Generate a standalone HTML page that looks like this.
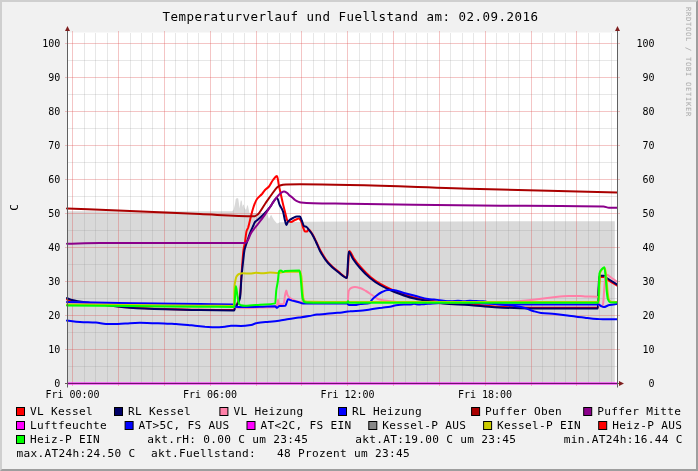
<!DOCTYPE html>
<html lang="de"><head><meta charset="utf-8"><title>Temperaturverlauf und Fuellstand</title>
<style>html,body{margin:0;padding:0;background:#f1f1f1;}body{width:698px;height:471px;overflow:hidden;}svg{display:block;}text{font-family:"DejaVu Sans Mono","Liberation Mono",monospace;fill:#000;white-space:pre;}.t{font-size:12.5px;letter-spacing:0.474px;}.l{font-size:11.11px;letter-spacing:0.311px;}.a{font-size:10px;letter-spacing:-0.02px;}.w{font-size:7.1px;letter-spacing:0.726px;fill:#aaaaaa;}.ln{fill:none;stroke-width:2;stroke-linejoin:round;stroke-linecap:round;}</style></head><body>
<svg width="698" height="471" viewBox="0 0 698 471">
<rect x="0" y="0" width="698" height="471" fill="#f1f1f1"/>
<path d="M0 0H698V2H2V471H0Z" fill="#cfcfcf"/>
<path d="M698 471H0L2 469H696V2L698 0Z" fill="#9e9e9e"/>
<rect x="67" y="32.5" width="551" height="350.5" fill="#fff"/>
<path d="M67 383 L67 211.2 L180 211.3 L232 211.2 L233.5 210 L235 204 L235.8 199 L237 198 L238.2 198.6 L239 204 L239.7 208.5 L240.3 203 L240.9 200.3 L241.8 201 L242.5 207 L243 205 L243.8 204.5 L244.6 208 L246 210 L247 206 L247.8 205 L248.6 209 L249.5 213 L267 213.2 L268 216 L269 219 L270.3 216 L271.2 214.8 L272.3 217 L274 220 L277 223.6 L280 222.2 L300 221.8 L350 221.6 L450 221.4 L614.8 221.2 L614.8 383Z" fill="#d9d9d9"/>
<g shape-rendering="crispEdges"><path d="M67 366.5H617" stroke="#8f8f8f" stroke-opacity="0.21"/><path d="M67 332.5H617" stroke="#8f8f8f" stroke-opacity="0.21"/><path d="M67 298.5H617" stroke="#8f8f8f" stroke-opacity="0.21"/><path d="M67 264.5H617" stroke="#8f8f8f" stroke-opacity="0.21"/><path d="M67 230.5H617" stroke="#8f8f8f" stroke-opacity="0.21"/><path d="M67 196.5H617" stroke="#8f8f8f" stroke-opacity="0.21"/><path d="M67 162.5H617" stroke="#8f8f8f" stroke-opacity="0.21"/><path d="M67 128.5H617" stroke="#8f8f8f" stroke-opacity="0.21"/><path d="M67 94.5H617" stroke="#8f8f8f" stroke-opacity="0.21"/><path d="M67 60.5H617" stroke="#8f8f8f" stroke-opacity="0.21"/><path d="M65 383.5H620" stroke="#de4f4f" stroke-opacity="0.33"/><path d="M65 349.5H620" stroke="#de4f4f" stroke-opacity="0.33"/><path d="M65 315.5H620" stroke="#de4f4f" stroke-opacity="0.33"/><path d="M65 281.5H620" stroke="#de4f4f" stroke-opacity="0.33"/><path d="M65 247.5H620" stroke="#de4f4f" stroke-opacity="0.33"/><path d="M65 213.5H620" stroke="#de4f4f" stroke-opacity="0.33"/><path d="M65 179.5H620" stroke="#de4f4f" stroke-opacity="0.33"/><path d="M65 145.5H620" stroke="#de4f4f" stroke-opacity="0.33"/><path d="M65 111.5H620" stroke="#de4f4f" stroke-opacity="0.33"/><path d="M65 77.5H620" stroke="#de4f4f" stroke-opacity="0.33"/><path d="M65 43.5H620" stroke="#de4f4f" stroke-opacity="0.33"/><path d="M84.5 33V383" stroke="#8f8f8f" stroke-opacity="0.21"/><path d="M95.5 33V383" stroke="#8f8f8f" stroke-opacity="0.21"/><path d="M107.5 33V383" stroke="#8f8f8f" stroke-opacity="0.21"/><path d="M130.5 33V383" stroke="#8f8f8f" stroke-opacity="0.21"/><path d="M141.5 33V383" stroke="#8f8f8f" stroke-opacity="0.21"/><path d="M152.5 33V383" stroke="#8f8f8f" stroke-opacity="0.21"/><path d="M175.5 33V383" stroke="#8f8f8f" stroke-opacity="0.21"/><path d="M187.5 33V383" stroke="#8f8f8f" stroke-opacity="0.21"/><path d="M198.5 33V383" stroke="#8f8f8f" stroke-opacity="0.21"/><path d="M221.5 33V383" stroke="#8f8f8f" stroke-opacity="0.21"/><path d="M233.5 33V383" stroke="#8f8f8f" stroke-opacity="0.21"/><path d="M244.5 33V383" stroke="#8f8f8f" stroke-opacity="0.21"/><path d="M267.5 33V383" stroke="#8f8f8f" stroke-opacity="0.21"/><path d="M279.5 33V383" stroke="#8f8f8f" stroke-opacity="0.21"/><path d="M290.5 33V383" stroke="#8f8f8f" stroke-opacity="0.21"/><path d="M313.5 33V383" stroke="#8f8f8f" stroke-opacity="0.21"/><path d="M324.5 33V383" stroke="#8f8f8f" stroke-opacity="0.21"/><path d="M336.5 33V383" stroke="#8f8f8f" stroke-opacity="0.21"/><path d="M359.5 33V383" stroke="#8f8f8f" stroke-opacity="0.21"/><path d="M370.5 33V383" stroke="#8f8f8f" stroke-opacity="0.21"/><path d="M382.5 33V383" stroke="#8f8f8f" stroke-opacity="0.21"/><path d="M405.5 33V383" stroke="#8f8f8f" stroke-opacity="0.21"/><path d="M416.5 33V383" stroke="#8f8f8f" stroke-opacity="0.21"/><path d="M427.5 33V383" stroke="#8f8f8f" stroke-opacity="0.21"/><path d="M450.5 33V383" stroke="#8f8f8f" stroke-opacity="0.21"/><path d="M462.5 33V383" stroke="#8f8f8f" stroke-opacity="0.21"/><path d="M473.5 33V383" stroke="#8f8f8f" stroke-opacity="0.21"/><path d="M496.5 33V383" stroke="#8f8f8f" stroke-opacity="0.21"/><path d="M508.5 33V383" stroke="#8f8f8f" stroke-opacity="0.21"/><path d="M519.5 33V383" stroke="#8f8f8f" stroke-opacity="0.21"/><path d="M542.5 33V383" stroke="#8f8f8f" stroke-opacity="0.21"/><path d="M554.5 33V383" stroke="#8f8f8f" stroke-opacity="0.21"/><path d="M565.5 33V383" stroke="#8f8f8f" stroke-opacity="0.21"/><path d="M588.5 33V383" stroke="#8f8f8f" stroke-opacity="0.21"/><path d="M599.5 33V383" stroke="#8f8f8f" stroke-opacity="0.21"/><path d="M611.5 33V383" stroke="#8f8f8f" stroke-opacity="0.21"/><path d="M72.5 31V386" stroke="#de4f4f" stroke-opacity="0.33"/><path d="M118.5 31V386" stroke="#de4f4f" stroke-opacity="0.33"/><path d="M164.5 31V386" stroke="#de4f4f" stroke-opacity="0.33"/><path d="M210.5 31V386" stroke="#de4f4f" stroke-opacity="0.33"/><path d="M256.5 31V386" stroke="#de4f4f" stroke-opacity="0.33"/><path d="M301.5 31V386" stroke="#de4f4f" stroke-opacity="0.33"/><path d="M347.5 31V386" stroke="#de4f4f" stroke-opacity="0.33"/><path d="M393.5 31V386" stroke="#de4f4f" stroke-opacity="0.33"/><path d="M439.5 31V386" stroke="#de4f4f" stroke-opacity="0.33"/><path d="M485.5 31V386" stroke="#de4f4f" stroke-opacity="0.33"/><path d="M531.5 31V386" stroke="#de4f4f" stroke-opacity="0.33"/><path d="M576.5 31V386" stroke="#de4f4f" stroke-opacity="0.33"/></g>
<path class="ln" d="M67 299.5C68.7 299.9 70.3 300.4 72 300.8C74.7 301.4 77.3 301.8 80 302.2C83.3 302.7 86.7 303.0 90 303.4C96.7 304.1 103.3 304.7 110 305.4C116.7 306.1 123.3 307.0 130 307.4C141.7 308.2 153.3 308.6 165 309C176.7 309.4 188.3 309.7 200 309.8C211.3 309.9 222.7 310.1 234 310.1C234.3 310.1 234.7 307.7 235 307C235.7 305.6 236.3 305.3 237 304C238.0 302.1 239.0 300.8 240 296C240.5 293.6 241.0 281.6 241.5 275C242.2 266.2 242.8 254.9 243.5 250C244.0 246.3 244.5 245.0 245 242C245.5 238.8 246.1 232.7 246.6 231C247.1 229.5 247.5 229.3 248 228C248.8 225.7 249.7 221.2 250.5 218C251.2 215.3 251.9 212.3 252.6 210C253.3 207.8 253.9 205.6 254.6 204C255.4 202.0 256.2 200.1 257 199C258.7 196.7 260.3 195.9 262 194C263.0 192.8 264.0 191.1 265 190C266.3 188.6 267.7 188.0 269 186.5C270.3 185.0 271.7 181.7 273 180C274.3 178.3 275.7 176.0 277 176C277.7 176.0 278.3 182.8 279 186C279.7 189.2 280.3 192.0 281 195C281.7 198.0 282.3 201.2 283 204C283.5 206.1 284.0 208.0 284.5 210C285.0 212.0 285.5 214.2 286 216C286.5 217.8 287.0 220.7 287.5 221C288.7 221.7 289.8 222.0 291 222C292.3 222.0 293.7 220.5 295 220C296.3 219.5 297.7 218.6 299 218.6C299.7 218.6 300.3 219.9 301 221C301.7 222.1 302.3 225.3 303 227C303.7 228.7 304.3 231.6 305 231.6C305.7 231.6 306.3 231.6 307 231.6C307.5 231.6 308.1 229.6 308.6 229.6C309.8 229.6 311.0 232.1 312.2 233.8C313.6 235.8 314.9 238.9 316.3 241.7C317.7 244.5 319.0 248.1 320.4 250.6C323.1 255.4 325.7 259.6 328.4 262.6C331.7 266.4 335.1 269.0 338.4 271.6C341.3 273.9 344.3 277.6 347.2 277.6C347.5 277.6 347.9 268.2 348.2 264C348.6 259.4 348.9 251.0 349.3 251C350.8 251.0 352.3 256.0 353.8 258.2C356.1 261.6 358.5 264.6 360.8 267.2C364.1 271.0 367.5 274.5 370.8 277.2C374.1 279.9 377.5 282.3 380.8 284.2C384.1 286.1 387.5 287.7 390.8 289.2C394.1 290.7 397.5 292.0 400.8 293.2C404.8 294.7 408.8 296.2 412.8 297.2C418.1 298.5 423.3 299.3 428.6 300.2C433.4 301.1 438.2 302.2 443 302.6C451.7 303.3 460.3 303.4 469 304C477.5 304.6 486.1 305.9 494.6 306.4C503.1 306.9 511.5 307.3 520 307.4C533.3 307.6 546.7 307.8 560 307.8C572.7 307.8 585.3 307.8 598 307.8C598.3 307.8 598.5 294.9 598.8 290C599.1 285.1 599.3 277.8 599.6 277.6C600.1 277.2 600.5 277.0 601 277C602.0 277.0 603.0 277.0 604 277C604.9 277.0 605.9 278.5 606.8 279.2C610.1 281.6 613.5 283.3 616.8 285.4" stroke="#ff0000" />
<path class="ln" d="M67 298.1C68.7 298.7 70.3 299.6 72 300C78.0 301.5 84.0 302.1 90 303C96.7 304.0 103.3 304.7 110 305.5C116.7 306.3 123.3 307.3 130 307.7C141.7 308.5 153.3 308.9 165 309.3C176.7 309.7 188.3 310.0 200 310.1C211.4 310.2 222.9 310.4 234.3 310.4C234.5 310.4 234.8 308.5 235 308C235.7 306.5 236.3 306.2 237 305C238.0 303.2 239.0 302.3 240 298C240.5 295.8 241.0 282.7 241.5 277C242.2 269.4 242.8 263.7 243.5 258C243.8 255.1 244.2 251.6 244.5 250C245.0 247.6 245.5 246.6 246 245C246.3 244.0 246.7 243.0 247 242C248.0 239.0 249.0 235.6 250 233C251.2 229.9 252.4 227.6 253.6 225C254.1 224.0 254.5 222.6 255 222C256.0 220.8 257.0 220.5 258 219.6C259.7 218.2 261.3 216.7 263 215C265.3 212.7 267.7 210.0 270 207.2C272.3 204.4 274.7 198.0 277 198C277.9 198.0 278.8 203.0 279.7 205C280.8 207.5 281.9 208.4 283 211.5C283.7 213.4 284.3 218.1 285 220.5C285.5 222.3 286.0 225.0 286.5 225C287.0 225.0 287.5 222.2 288 221.6C289.7 219.6 291.3 218.8 293 218C294.3 217.4 295.7 216.6 297 216.6C298.0 216.6 299.0 216.6 300 216.6C300.5 216.6 301.1 218.8 301.6 220C302.4 221.8 303.2 225.5 304 226C304.9 226.6 305.7 226.5 306.6 227C307.4 227.5 308.2 229.0 309 230C310.0 231.3 311.0 232.4 312 234C313.3 236.1 314.7 239.2 316 242C317.3 244.8 318.7 248.5 320 251C322.7 255.9 325.3 260.0 328 263C331.3 266.8 334.7 269.5 338 272C341.0 274.3 344.0 278.0 347 278C347.3 278.0 347.5 269.1 347.8 265C348.1 260.4 348.4 251.7 348.7 251.7C350.1 251.7 351.6 256.9 353 259C355.3 262.5 357.7 265.4 360 268C363.3 271.8 366.7 275.3 370 278C373.3 280.7 376.7 283.1 380 285C383.3 286.9 386.7 288.5 390 290C393.3 291.5 396.7 292.8 400 294C404.0 295.5 408.0 297.0 412 298C417.3 299.3 422.7 300.1 428 301C433.0 301.9 438.0 303.1 443 303.5C451.7 304.3 460.3 304.4 469 305C477.5 305.6 486.1 306.7 494.6 307.2C503.1 307.7 511.5 308.1 520 308.2C533.3 308.4 546.7 308.6 560 308.6C572.6 308.6 585.2 308.6 597.8 308.6C598.0 308.6 598.3 294.8 598.5 290C598.8 284.5 599.0 276.7 599.3 276.5C599.9 276.0 600.4 275.8 601 275.8C602.0 275.8 603.0 275.8 604 275.8C604.9 275.8 605.9 277.3 606.8 278C610.1 280.4 613.5 282.2 616.8 284.3" stroke="#000066" />
<path class="ln" d="M67 302.6C111.3 303.2 155.7 303.9 200 304.4C211.4 304.5 222.9 304.4 234.3 304.8C234.5 304.8 234.8 307.3 235 307.3C238.3 307.8 241.7 307.9 245 307.9C250.0 307.9 255.0 307.6 260 307.5C265.0 307.4 270.0 307.4 275 307C275.7 306.9 276.3 306.2 277 305C277.3 304.4 277.7 299.8 278 299.8C278.3 299.8 278.7 304.2 279 304.2C280.6 304.2 282.2 304.2 283.8 304C284.2 304.0 284.6 297.6 285 295.6C285.4 293.4 285.9 290.6 286.3 290.6C286.7 290.6 287.1 294.2 287.5 295C288.3 296.6 289.2 297.4 290 298C291.7 299.3 293.3 300.0 295 300.6C296.7 301.2 298.3 301.9 300 302C315.7 302.8 331.5 303.0 347.2 303C347.4 303.0 347.5 302.5 347.7 302C348.0 301.0 348.4 291.9 348.7 291C349.5 289.0 350.2 288.3 351 288C352.3 287.4 353.7 287.0 355 287C356.7 287.0 358.3 287.5 360 288C362.0 288.6 364.0 289.9 366 291C368.0 292.1 370.0 293.7 372 295C374.0 296.3 376.0 298.3 378 299C380.0 299.7 382.0 300.1 384 300.4C387.3 300.9 390.7 301.2 394 301.6C396.0 301.8 398.0 302.3 400 302.3C435.0 302.5 470.0 302.5 505 302.5C506.7 302.5 508.3 302.2 510 302C517.0 301.3 524.0 300.7 531 300C537.9 299.3 544.7 298.2 551.6 297.5C557.3 296.9 563.1 296.0 568.8 296C572.8 296.0 576.8 296.0 580.8 296C582.2 296.0 583.6 296.3 585 296.4C589.0 296.6 593.0 296.5 597 296.8C597.4 296.8 597.9 297.0 598.3 297.5C598.5 297.8 598.8 305.4 599 305.5C600.2 306.2 601.3 306.3 602.5 306.3C602.7 306.3 603.0 304.6 603.2 303C603.6 300.3 604.0 290.9 604.4 286.4C604.7 282.7 605.1 278.0 605.4 277C605.9 275.6 606.3 274.7 606.8 274.7C608.4 274.7 610.1 276.9 611.7 278C613.4 279.2 615.1 280.4 616.8 281.6" stroke="#ff80a8" />
<path class="ln" d="M67 302.1C111.3 302.8 155.7 303.6 200 304.1C211.4 304.2 222.9 304.1 234.3 304.4C234.5 304.4 234.8 306.7 235 306.7C238.3 307.1 241.7 307.1 245 307.1C250.0 307.1 255.0 306.8 260 306.7C265.0 306.6 270.0 306.2 275 306.2C275.7 306.2 276.3 307.8 277 307.8C277.8 307.8 278.6 306.1 279.4 306C281.4 305.9 283.3 306.0 285.3 305.8C285.7 305.8 286.1 304.0 286.5 303C287.0 301.8 287.5 299.3 288 299.3C289.3 299.3 290.7 300.2 292 300.6C294.0 301.1 296.0 301.5 298 302C299.7 302.4 301.3 303.5 303 303.5C317.7 303.5 332.3 303.5 347 303.5C347.7 303.5 348.3 305.0 349 305C351.0 305.0 353.0 305.0 355 305C356.7 305.0 358.3 304.2 360 304C363.3 303.5 366.7 303.8 370 303C370.3 302.9 370.7 301.5 371 301C372.7 298.6 374.3 297.3 376 296C378.0 294.4 380.0 292.9 382 292C384.0 291.1 386.0 290.0 388 290C389.7 290.0 391.3 290.0 393 290C396.7 290.0 400.3 292.0 404 293C408.0 294.0 412.0 295.0 416 296C420.0 297.0 424.0 298.5 428 299C430.0 299.3 432.0 299.4 434 299.6C439.9 300.2 445.7 301.4 451.6 301.8C457.7 302.3 463.9 302.5 470 302.8C476.7 303.1 483.3 303.5 490 303.8C494.3 304.0 498.7 304.5 503 304.5C534.8 304.6 566.7 304.5 598.5 304.6C599.3 304.6 600.2 305.6 601 306C601.9 306.4 602.7 307.1 603.6 307.1C605.5 307.1 607.5 305.4 609.4 305C611.9 304.5 614.3 304.3 616.8 304" stroke="#0000ff" />
<path class="ln" d="M67 208.5C88.0 209.3 109.0 210.0 130 210.9C153.3 211.9 176.7 213.0 200 214C218.0 214.8 236.0 216.3 254 216.3C255.0 216.3 256.0 215.6 257 215C259.7 213.4 262.3 207.7 265 204C267.3 200.7 269.7 197.1 272 194C273.7 191.8 275.3 189.1 277 187.6C278.0 186.7 279.0 185.8 280 185.5C282.0 184.9 284.0 184.6 286 184.5C290.7 184.4 295.3 184.3 300 184.3C360.0 184.3 420.0 187.5 480 189C525.7 190.2 571.3 191.3 617 192.5" stroke="#aa0000" />
<path class="ln" d="M67 243.7C78.0 243.5 89.0 243.1 100 243.1C148.5 243.0 197.0 243.1 245.5 243C246.3 243.0 247.2 241.3 248 240C248.9 238.6 249.7 235.6 250.6 234C251.7 231.9 252.9 230.5 254 229C255.3 227.2 256.7 225.7 258 224C260.3 221.0 262.7 217.9 265 214.6C267.3 211.3 269.7 207.4 272 204C273.7 201.6 275.3 199.0 277 197C278.3 195.4 279.7 193.6 281 192.8C282.0 192.2 283.0 191.5 284 191.5C285.0 191.5 286.0 192.2 287 192.8C287.7 193.2 288.3 194.4 289 195C290.0 195.9 291.0 196.5 292 197.3C293.0 198.1 294.0 199.3 295 200C296.0 200.7 297.0 201.2 298 201.6C299.0 202.0 300.0 202.4 301 202.5C305.0 203.0 309.0 203.2 313 203.3C325.3 203.6 337.7 203.6 350 203.8C393.3 204.4 436.7 205.1 480 205.5C521.2 205.9 562.3 205.6 603.5 206.5C605.3 206.5 607.2 207.7 609 207.7C611.7 207.7 614.3 207.7 617 207.7" stroke="#8b008b" />
<path d="M67 383.5H617" stroke="#ff00ff" stroke-width="2" fill="none"/>
<path class="ln" d="M67 320.6C71.3 321.1 75.7 321.8 80 322C85.3 322.3 90.7 322.3 96 322.6C99.3 322.8 102.7 324.0 106 324C110.0 324.0 114.0 324.0 118 324C122.0 324.0 126.0 323.4 130 323.2C133.3 323.0 136.7 322.8 140 322.8C144.0 322.8 148.0 323.1 152 323.2C156.0 323.3 160.0 323.3 164 323.4C168.0 323.5 172.0 323.8 176 324C180.0 324.2 184.0 324.6 188 325C190.3 325.2 192.7 325.5 195 325.7C198.3 326.0 201.7 326.4 205 326.7C208.3 326.9 211.7 327.3 215 327.3C218.3 327.3 221.7 327.0 225 326.7C227.0 326.5 229.0 325.7 231 325.7C234.3 325.7 237.7 326.0 241 326C244.3 326.0 247.7 325.5 251 325C253.0 324.7 255.0 323.3 257 323C261.0 322.3 265.0 322.1 269 321.7C272.3 321.4 275.7 321.1 279 320.7C282.3 320.3 285.7 319.5 289 319C292.3 318.5 295.7 318.1 299 317.6C302.3 317.1 305.7 316.6 309 316C311.7 315.6 314.3 314.9 317 314.6C319.7 314.3 322.3 314.2 325 314C328.3 313.7 331.7 313.2 335 313C336.7 312.9 338.3 312.8 340 312.7C343.3 312.4 346.7 311.4 350 311.2C353.3 310.9 356.7 310.9 360 310.7C363.3 310.5 366.7 309.9 370 309.5C374.0 309.0 378.0 308.2 382 307.7C384.7 307.3 387.3 307.2 390 306.7C392.0 306.4 394.0 305.5 396 305.2C398.7 304.8 401.3 304.5 404 304.5C406.0 304.5 408.0 304.6 410 304.6C411.3 304.6 412.7 303.8 414 303.8C415.7 303.8 417.3 304.6 419 304.6C420.3 304.6 421.7 304.3 423 304.2C424.7 304.1 426.3 303.9 428 303.8C432.0 303.5 436.0 303.4 440 303C443.3 302.7 446.7 301.6 450 301.3C452.7 301.1 455.3 300.8 458 300.8C460.0 300.8 462.0 301.2 464 301.2C466.0 301.2 468.0 300.7 470 300.7C472.0 300.7 474.0 301.1 476 301.1C478.3 301.2 480.7 301.1 483 301.2C485.3 301.3 487.7 302.0 490 302.5C493.3 303.2 496.7 304.2 500 304.6C505.0 305.3 510.0 305.3 515 306C518.3 306.4 521.7 307.1 525 308C527.7 308.7 530.3 310.2 533 311C535.7 311.8 538.3 312.7 541 313C545.7 313.5 550.3 313.6 555 314C559.7 314.4 564.3 315.1 569 315.7C574.3 316.4 579.7 317.1 585 317.7C589.0 318.2 593.0 318.8 597 319C599.7 319.1 602.3 319.3 605 319.3C609.0 319.3 613.0 319.2 617 319.2" stroke="#0000ff" />
<path class="ln" d="M67 304.6C88.0 304.8 109.0 304.9 130 305.1C153.3 305.3 176.7 305.7 200 305.8C211.3 305.8 222.7 305.9 234 305.9C234.2 305.9 234.3 287.9 234.5 286C234.8 282.9 235.0 282.3 235.3 281C235.7 279.1 236.1 277.3 236.5 276.6C237.3 275.2 238.2 274.3 239 274C240.3 273.6 241.7 273.3 243 273.3C245.3 273.3 247.7 273.5 250 273.5C252.0 273.5 254.0 272.8 256 272.8C258.0 272.8 260.0 273.2 262 273.2C264.7 273.2 267.3 272.6 270 272.6C272.7 272.6 275.3 273.0 278 273C279.7 273.0 281.3 272.1 283 272C288.6 271.7 294.2 271.5 299.8 271.5C300.3 271.5 300.8 273.5 301.3 276C301.6 277.7 302.0 284.4 302.3 288C302.6 291.6 303.0 296.8 303.3 298C303.8 299.8 304.3 301.1 304.8 301.2C306.5 301.7 308.3 301.8 310 301.8C321.7 302.0 333.3 302.0 345 302C429.6 302.0 514.2 302.0 598.8 302C599.2 302.0 599.6 274.0 600 273C601.6 269.1 603.3 268.0 604.9 268C605.4 268.0 605.9 273.7 606.4 278C606.8 281.4 607.2 288.7 607.6 292C608.0 295.3 608.4 298.7 608.8 299.5C609.5 300.9 610.3 301.7 611 301.8C612.9 302.0 614.9 301.9 616.8 302" stroke="#cccc00" />
<path class="ln" d="M67 305.5C88.0 305.7 109.0 305.9 130 306.1C153.3 306.3 176.7 306.7 200 306.8C211.3 306.8 222.7 306.9 234 306.9C234.2 306.9 234.3 305.9 234.5 305C234.9 302.6 235.4 286.0 235.8 286C236.4 286.0 236.9 292.9 237.5 296C238.0 298.7 238.5 302.6 239 303.5C239.6 304.5 240.2 305.2 240.8 305.3C242.2 305.6 243.6 305.8 245 305.8C250.0 305.8 255.0 305.1 260 304.7C265.1 304.3 270.1 304.6 275.2 303.4C275.5 303.3 275.9 293.8 276.2 291C276.7 286.6 277.3 285.2 277.8 281.5C278.2 278.7 278.6 272.2 279 271.5C279.3 270.9 279.7 270.5 280 270.5C280.5 270.5 281.0 270.6 281.5 270.8C282.0 271.0 282.5 272.0 283 272C283.7 272.0 284.3 271.1 285 271C289.8 270.6 294.7 270.5 299.5 270.5C299.8 270.5 300.2 273.5 300.5 276C300.8 278.5 301.2 284.4 301.5 288C301.8 291.6 302.2 296.7 302.5 298C303.0 300.0 303.5 301.2 304 301.6C304.7 302.1 305.3 302.5 306 302.5C319.7 302.8 333.3 302.8 347 302.8C347.3 302.8 347.7 301.3 348 301.3C348.3 301.3 348.7 302.8 349 302.8C432.1 302.8 515.2 302.8 598.3 302.8C598.5 302.8 598.8 290.8 599 285C599.2 280.9 599.3 273.6 599.5 273C600.3 269.9 601.2 269.8 602 269C602.8 268.2 603.6 267.3 604.4 267.3C604.8 267.3 605.3 273.7 605.7 278C606.1 281.7 606.4 288.3 606.8 291.7C607.1 294.8 607.5 298.1 607.8 299C608.5 301.0 609.3 302.2 610 302.3C612.3 302.5 614.5 302.4 616.8 302.5" stroke="#00ff00" />
<path d="M65 383.5H621" stroke="#202020" stroke-width="1" stroke-opacity="0.65"/>
<path d="M67.5 31V387.5M617.5 31V387.5" stroke="#606060" stroke-width="1"/>
<path d="M65 31L67.5 26L70 31Z M615 31L617.5 26L620 31Z M619 381L624 383.5L619 386Z" fill="#7f1f1f"/>
<text class="a" x="60.3" y="386.7" text-anchor="end">0</text>
<text class="a" x="654.5" y="386.7" text-anchor="end">0</text>
<text class="a" x="60.3" y="352.7" text-anchor="end">10</text>
<text class="a" x="654.5" y="352.7" text-anchor="end">10</text>
<text class="a" x="60.3" y="318.7" text-anchor="end">20</text>
<text class="a" x="654.5" y="318.7" text-anchor="end">20</text>
<text class="a" x="60.3" y="284.7" text-anchor="end">30</text>
<text class="a" x="654.5" y="284.7" text-anchor="end">30</text>
<text class="a" x="60.3" y="250.7" text-anchor="end">40</text>
<text class="a" x="654.5" y="250.7" text-anchor="end">40</text>
<text class="a" x="60.3" y="216.7" text-anchor="end">50</text>
<text class="a" x="654.5" y="216.7" text-anchor="end">50</text>
<text class="a" x="60.3" y="182.7" text-anchor="end">60</text>
<text class="a" x="654.5" y="182.7" text-anchor="end">60</text>
<text class="a" x="60.3" y="148.7" text-anchor="end">70</text>
<text class="a" x="654.5" y="148.7" text-anchor="end">70</text>
<text class="a" x="60.3" y="114.7" text-anchor="end">80</text>
<text class="a" x="654.5" y="114.7" text-anchor="end">80</text>
<text class="a" x="60.3" y="80.7" text-anchor="end">90</text>
<text class="a" x="654.5" y="80.7" text-anchor="end">90</text>
<text class="a" x="60.3" y="46.7" text-anchor="end">100</text>
<text class="a" x="654.5" y="46.7" text-anchor="end">100</text>
<text class="a" x="45.5" y="398">Fri 00:00</text>
<text class="a" x="183.0" y="398">Fri 06:00</text>
<text class="a" x="320.5" y="398">Fri 12:00</text>
<text class="a" x="458.0" y="398">Fri 18:00</text>
<text class="t" x="162.5" y="21">Temperaturverlauf und Fuellstand am: 02.09.2016</text>
<text class="l" transform="translate(18.2 210.7) rotate(-90)">C</text>
<text class="w" transform="translate(686.1 7) rotate(90)">RRDTOOL / TOBI OETIKER</text>
<rect x="16.5" y="407.5" width="8" height="8" fill="#ff0000" stroke="#000" stroke-width="1"/>
<text class="l" x="30" y="415">VL Kessel</text>
<rect x="114.5" y="407.5" width="8" height="8" fill="#000066" stroke="#000" stroke-width="1"/>
<text class="l" x="128" y="415">RL Kessel</text>
<rect x="219.9" y="407.5" width="8" height="8" fill="#ff80a8" stroke="#000" stroke-width="1"/>
<text class="l" x="233.4" y="415">VL Heizung</text>
<rect x="338.5" y="407.5" width="8" height="8" fill="#0000ff" stroke="#000" stroke-width="1"/>
<text class="l" x="352" y="415">RL Heizung</text>
<rect x="471.6" y="407.5" width="8" height="8" fill="#aa0000" stroke="#000" stroke-width="1"/>
<text class="l" x="485.1" y="415">Puffer Oben</text>
<rect x="583.7" y="407.5" width="8" height="8" fill="#8b008b" stroke="#000" stroke-width="1"/>
<text class="l" x="597.2" y="415">Puffer Mitte</text>
<rect x="16.5" y="421.5" width="8" height="8" fill="#ff00ff" stroke="#000" stroke-width="1"/>
<text class="l" x="30" y="429">Luftfeuchte</text>
<rect x="125.1" y="421.5" width="8" height="8" fill="#0000ff" stroke="#000" stroke-width="1"/>
<text class="l" x="138.6" y="429">AT&gt;5C, FS AUS</text>
<rect x="247.0" y="421.5" width="8" height="8" fill="#ff00ff" stroke="#000" stroke-width="1"/>
<text class="l" x="260.5" y="429">AT&lt;2C, FS EIN</text>
<rect x="368.8" y="421.5" width="8" height="8" fill="#888888" stroke="#000" stroke-width="1"/>
<text class="l" x="382.3" y="429">Kessel-P AUS</text>
<rect x="483.6" y="421.5" width="8" height="8" fill="#cccc00" stroke="#000" stroke-width="1"/>
<text class="l" x="497.1" y="429">Kessel-P EIN</text>
<rect x="598.7" y="421.5" width="8" height="8" fill="#ff0000" stroke="#000" stroke-width="1"/>
<text class="l" x="612.2" y="429">Heiz-P AUS</text>
<rect x="16.5" y="435.5" width="8" height="8" fill="#00ff00" stroke="#000" stroke-width="1"/>
<text class="l" x="30" y="443">Heiz-P EIN</text>
<text class="l" x="147.2" y="443">akt.rH: 0.00 C um 23:45</text>
<text class="l" x="355.3" y="443">akt.AT:19.00 C um 23:45</text>
<text class="l" x="563.8" y="443">min.AT24h:16.44 C</text>
<text class="l" x="16.6" y="457">max.AT24h:24.50 C</text>
<text class="l" x="151" y="457">akt.Fuellstand:   48 Prozent um 23:45</text>
</svg></body></html>
